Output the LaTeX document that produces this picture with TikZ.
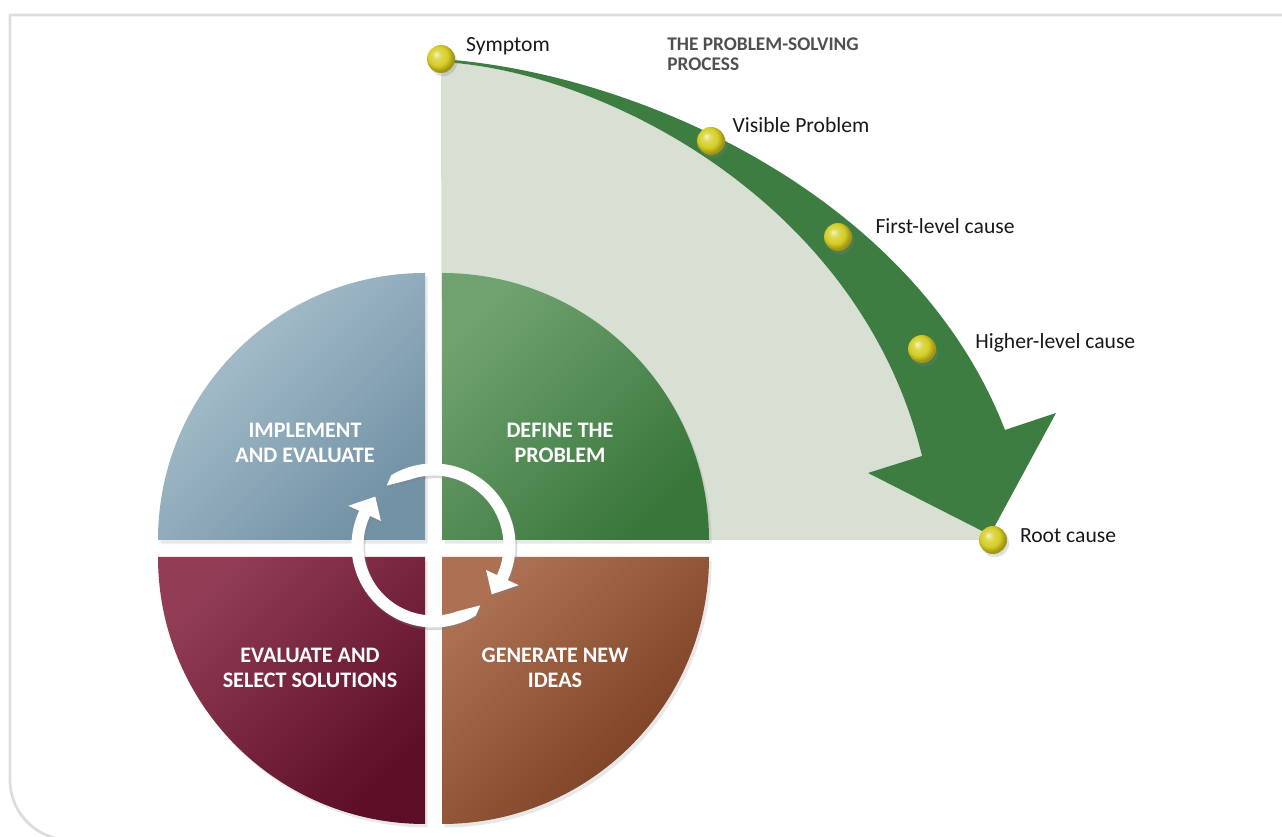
\documentclass[tikz,border=0pt]{standalone}
\usepackage{fontspec}
\setmainfont{Carlito}
\usepackage{tikz}
\usetikzlibrary{positioning,calc,shadows}
\definecolor{framegray}{RGB}{221,221,221}
\definecolor{paleleaf}{RGB}{216,224,211}
\definecolor{leafgreen}{RGB}{62,125,65}
\definecolor{ballyellow}{RGB}{212,205,38}
\definecolor{ballhigh}{RGB}{246,244,190}
\definecolor{ballrim}{RGB}{160,150,20}
\definecolor{titlegray}{RGB}{80,80,80}
\definecolor{labelblack}{RGB}{25,25,25}
\definecolor{bluelight}{RGB}{174,196,208}
\definecolor{bluedark}{RGB}{114,146,166}
\definecolor{greenlight}{RGB}{112,162,112}
\definecolor{greendark}{RGB}{56,118,58}
\definecolor{maroonlight}{RGB}{146,60,86}
\definecolor{maroondark}{RGB}{92,14,38}
\definecolor{brownlight}{RGB}{172,112,82}
\definecolor{browndark}{RGB}{118,58,30}
\pgfdeclareradialshading{yellowball}{\pgfpoint{-9bp}{9bp}}{%
  color(0bp)=(ballhigh); color(8bp)=(ballyellow!70!ballhigh);
  color(18bp)=(ballyellow); color(26bp)=(ballrim); color(50bp)=(ballrim)}

\begin{document}
\begin{tikzpicture}[
    x=0.02cm, y=0.02cm,
    frame/.style={draw=framegray, line width=1.6pt},
    quarter/.style={drop shadow={opacity=0.18, shadow xshift=1.5pt, shadow yshift=-2pt}},
    ball/.style={circle, shading=yellowball, minimum size=0.56cm, inner sep=0pt,
                 drop shadow={opacity=0.25, shadow xshift=1.2pt, shadow yshift=-1.8pt}},
    lbl/.style={inner sep=0pt, text=labelblack, font=\fontsize{12.3}{14}\selectfont},
    quadtext/.style={align=center, text=white, inner sep=0pt,
                     font=\bfseries\fontsize{12.6}{14.2}\selectfont},
    titletext/.style={align=left, text=titlegray, inner sep=0pt,
                      font=\bfseries\fontsize{11}{11.9}\selectfont},
    cycle/.style={fill=white, drop shadow={opacity=0.3, shadow xshift=1pt, shadow yshift=-1.5pt}}
]
\useasboundingbox (0,0) rectangle (1282,837);
\clip (0,0) rectangle (1282,837);

% frame
\draw[frame] (1290,822) -- (10,822) -- (10,57) arc[start angle=180, end angle=270, radius=60] -- (1290,-3);

% pale quarter behind the arrow
\fill[paleleaf] (442,297) -- (990,297) -- (922,381)
    .. controls (860,637) and (600,767) .. (441,775) -- cycle;

% green arrow
\fill[leafgreen] (441,778) .. controls (640,764) and (915,640) .. (1005,407)
    -- (1056,424) -- (990,302) -- (868,364) -- (922,381)
    .. controls (860,637) and (600,767) .. (441,775) -- cycle;

% four quarters
\shade[quarter, top color=bluelight, bottom color=bluedark, shading angle=45]
    (425,297) -- (158,297) arc[start angle=180, end angle=90, radius=267] -- cycle;
\shade[quarter, top color=greenlight, bottom color=greendark, shading angle=45]
    (442,297) -- (442,564) arc[start angle=90, end angle=0, radius=267] -- cycle;
\shade[quarter, top color=maroonlight, bottom color=maroondark, shading angle=45]
    (425,280) -- (425,13) arc[start angle=270, end angle=180, radius=267] -- cycle;
\shade[quarter, top color=brownlight, bottom color=browndark, shading angle=45]
    (442,280) -- (709,280) arc[start angle=0, end angle=-90, radius=267] -- cycle;

\node[quadtext] (implement) at (305,394) {IMPLEMENT\\AND EVALUATE};
\node[quadtext] (define) at (560,394) {DEFINE THE\\PROBLEM};
\node[quadtext] (select) at (310,169) {EVALUATE AND\\SELECT SOLUTIONS};
\node[quadtext] (generate) at (555,169) {GENERATE NEW\\IDEAS};

% cycle arrows
\coordinate (hub) at (433.5,291.5);
\fill[cycle] ($(hub)+(128:76)$) -- ($(hub)+(121:82)$) arc[start angle=121, end angle=-25, radius=82]
    -- ($(hub)+(-25:94)$) -- ($(hub)+(-40:76)$) -- ($(hub)+(-25:58)$)
    -- ($(hub)+(-25:70)$) arc[start angle=-25, end angle=110, radius=70] -- cycle;
\fill[cycle] ($(hub)+(308:76)$) -- ($(hub)+(301:82)$) arc[start angle=301, end angle=155, radius=82]
    -- ($(hub)+(155:94)$) -- ($(hub)+(140:76)$) -- ($(hub)+(155:58)$)
    -- ($(hub)+(155:70)$) arc[start angle=155, end angle=290, radius=70] -- cycle;

% causes along the arrow
\node[ball] (symptom) at (441,778) {};
\node[ball] (visible) at (711,696) {};
\node[ball] (first) at (838,600) {};
\node[ball] (higher) at (922,488) {};
\node[ball] (root) at (993,297) {};

\node[lbl, right=6pt of symptom, anchor=base west, yshift=4pt] (symptomlbl) {Symptom};
\node[lbl, right=4pt of visible, anchor=base west, yshift=5pt] (visiblelbl) {Visible Problem};
\node[lbl, right=13pt of first, anchor=base west, yshift=1.7pt] (firstlbl) {First-level cause};
\node[lbl, right=22pt of higher, anchor=base west, yshift=0.5pt] (higherlbl) {Higher-level cause};
\node[lbl, right=7pt of root, anchor=base west, yshift=-1.7pt] (rootlbl) {Root cause};

\node[titletext, anchor=north west] (title) at (667,800) {THE PROBLEM-SOLVING\\PROCESS};

\end{tikzpicture}
\end{document}
